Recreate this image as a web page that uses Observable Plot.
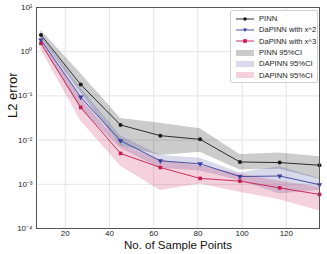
<!DOCTYPE html>
<html><head><meta charset="utf-8">
<script src="https://cdn.jsdelivr.net/npm/d3@7"></script>
<script src="https://cdn.jsdelivr.net/npm/@observablehq/plot@0.6"></script>
<style>
body{margin:0;background:#fff;font-family:"Liberation Sans",Arial,sans-serif;}
#wrap{position:relative;width:327px;height:254px;}
#legend{position:absolute;left:230px;top:10px;width:86px;padding:2px 0 1px 0;border:1px solid #d0d0d0;border-radius:2px;background:rgba(255,255,255,0.85);font-size:7.6px;color:#222;}
.item{display:flex;align-items:center;height:11.3px;}
.item svg{margin-left:5px;margin-right:5px;}
</style></head>
<body><div id="wrap"><div id="chart"></div><div id="legend"></div></div>
<script>
const samples = [9, 27, 45, 63, 81, 99, 117, 135];
const pinn    = [2.4, 0.18, 0.022, 0.0126, 0.0104, 0.0032, 0.0031, 0.0027];
const dapinn2 = [1.84, 0.094, 0.0097, 0.0034, 0.0029, 0.0015, 0.00154, 0.00098];
const dapinn3 = [1.54, 0.055, 0.005, 0.0024, 0.00136, 0.00118, 0.00083, 0.00059];
const pinnLo  = [2.0, 0.12, 0.0075, 0.0045, 0.0053, 0.0021, 0.0022, 0.0013];
const pinnHi  = [3.0, 0.32, 0.031, 0.024, 0.018, 0.0047, 0.0051, 0.0042];
const da2Lo   = [1.5, 0.05, 0.0065, 0.0023, 0.0020, 0.0012, 0.0006, 0.00072];
const da2Hi   = [2.3, 0.15, 0.0126, 0.0045, 0.0039, 0.0018, 0.0025, 0.00136];
const da3Lo   = [1.1, 0.027, 0.0026, 0.00072, 0.00102, 0.00066, 0.00045, 0.00025];
const da3Hi   = [2.0, 0.09, 0.008, 0.0035, 0.0026, 0.0017, 0.00117, 0.00085];
const yTicks  = [1e-4, 1e-3, 1e-2, 1e-1, 1, 10];
const xTicks  = [20, 40, 60, 80, 100, 120];
const seriesNames = ["PINN", "DaPINN with x^2", "DaPINN with x^3", "PINN 95%CI", "DAPINN 95%CI", "DAPINN 95%CI"];

const cBlack = "#1a1a1a", cBlue = "#3b3f9c", cRed = "#c8184f";
const rows = samples.map((x, i) => ({x, pinn: pinn[i], d2: dapinn2[i], d3: dapinn3[i],
  pLo: pinnLo[i], pHi: pinnHi[i], aLo: da2Lo[i], aHi: da2Hi[i], bLo: da3Lo[i], bHi: da3Hi[i]}));

const sup = {"-":"\u207B","0":"\u2070","1":"\u00B9","2":"\u00B2","3":"\u00B3","4":"\u2074"};
const fmt = d => "10" + String(Math.round(Math.log10(d))).split("").map(c => sup[c]).join("");

const chart = Plot.plot({
  width: 327, height: 254,
  marginLeft: 36, marginRight: 8, marginTop: 7, marginBottom: 26,
  style: {fontFamily: "Liberation Sans, Arial, sans-serif", background: "white"},
  x: {domain: [7, 135]},
  y: {type: "log", domain: [1e-4, 10]},
  marks: [
    Plot.gridX(xTicks, {stroke: "#e4e4e4", strokeOpacity: 1, strokeWidth: 1}),
    Plot.gridY(yTicks, {stroke: "#e4e4e4", strokeOpacity: 1, strokeWidth: 1}),
    Plot.axisX(xTicks, {tickSize: 0, tickPadding: 2, fontSize: 8, label: null, fill: "#222"}),
    Plot.axisY(yTicks, {tickSize: 0, tickPadding: 4, fontSize: 8, label: null, tickFormat: fmt, fill: "#222"}),
    Plot.areaY(rows, {x: "x", y1: "pLo", y2: "pHi", fill: "#000", fillOpacity: 0.2}),
    Plot.areaY(rows, {x: "x", y1: "aLo", y2: "aHi", fill: cBlue, fillOpacity: 0.2}),
    Plot.areaY(rows, {x: "x", y1: "bLo", y2: "bHi", fill: cRed, fillOpacity: 0.2}),
    Plot.lineY(rows, {x: "x", y: "pinn", stroke: cBlack, strokeWidth: 0.9}),
    Plot.lineY(rows, {x: "x", y: "d2", stroke: cBlue, strokeWidth: 0.9}),
    Plot.lineY(rows, {x: "x", y: "d3", stroke: cRed, strokeWidth: 0.9}),
    Plot.dot(rows, {x: "x", y: "pinn", fill: cBlack, r: 2, symbol: "circle"}),
    Plot.dot(rows, {x: "x", y: "d2", fill: cBlue, r: 2, symbol: "triangle", rotate: 180}),
    Plot.dot(rows, {x: "x", y: "d3", fill: cRed, r: 2, symbol: "square"}),
    Plot.frame({stroke: "#555", strokeWidth: 1}),
    Plot.text(["L2 error"], {frameAnchor: "left", text: d => d, rotate: -90, dx: -24, fontSize: 13, fill: "#111"}),
    Plot.text(["No. of Sample Points"], {frameAnchor: "bottom", lineAnchor: "middle", text: d => d, dy: 17, fontSize: 11.5, fill: "#111"})
  ]
});
document.getElementById("chart").appendChild(chart);

const leg = document.getElementById("legend");
const sw = [
  `<svg width="18" height="8"><line x1="0" y1="4" x2="18" y2="4" stroke="${cBlack}" stroke-width="0.9"/><circle cx="9" cy="4" r="1.8" fill="${cBlack}"/></svg>`,
  `<svg width="18" height="8"><line x1="0" y1="4" x2="18" y2="4" stroke="${cBlue}" stroke-width="0.9"/><path d="M7,2.5 L11,2.5 L9,6 Z" fill="${cBlue}"/></svg>`,
  `<svg width="18" height="8"><line x1="0" y1="4" x2="18" y2="4" stroke="${cRed}" stroke-width="0.9"/><rect x="7.2" y="2.2" width="3.6" height="3.6" fill="${cRed}"/></svg>`,
  `<svg width="18" height="8"><rect x="0" y="1" width="18" height="6" fill="#000" fill-opacity="0.2"/></svg>`,
  `<svg width="18" height="8"><rect x="0" y="1" width="18" height="6" fill="${cBlue}" fill-opacity="0.2"/></svg>`,
  `<svg width="18" height="8"><rect x="0" y="1" width="18" height="6" fill="${cRed}" fill-opacity="0.2"/></svg>`
];
seriesNames.forEach((n, i) => {
  const d = document.createElement("div");
  d.className = "item";
  d.innerHTML = sw[i] + `<span>${n}</span>`;
  leg.appendChild(d);
});
</script></body></html>
